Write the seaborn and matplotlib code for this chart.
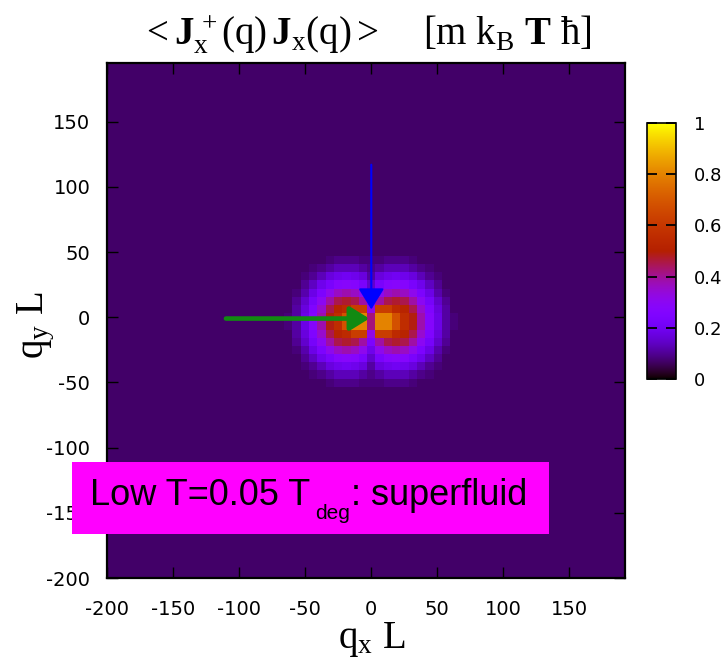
import numpy as np
import pandas as pd
import matplotlib
matplotlib.use("Agg")
import matplotlib.pyplot as plt
from matplotlib.patches import Rectangle
import seaborn as sns

# ---------------- data ----------------
Q_STEP = 2 * np.pi            # grid spacing in q*L
N_MIN, N_MAX = -32, 31        # grid indices along each axis
BACKGROUND = 0.07             # value far from the origin

PATCH_NX = list(range(-11, 12))      # columns of the central patch
PATCH_NY = list(range(7, -9, -1))    # rows of the central patch (top -> bottom)
PATCH_ROWS = [
    [0.07, 0.07, 0.07, 0.07, 0.07, 0.07, 0.08, 0.09, 0.09, 0.09, 0.08, 0.08, 0.08, 0.09, 0.09, 0.09, 0.08, 0.07, 0.07, 0.07, 0.07, 0.07, 0.07],
    [0.07, 0.07, 0.07, 0.07, 0.08, 0.09, 0.11, 0.13, 0.13, 0.13, 0.11, 0.09, 0.11, 0.13, 0.13, 0.13, 0.11, 0.09, 0.08, 0.07, 0.07, 0.07, 0.07],
    [0.07, 0.07, 0.07, 0.08, 0.10, 0.13, 0.17, 0.19, 0.20, 0.19, 0.17, 0.11, 0.17, 0.19, 0.20, 0.19, 0.17, 0.13, 0.10, 0.08, 0.07, 0.07, 0.07],
    [0.07, 0.07, 0.07, 0.10, 0.14, 0.19, 0.23, 0.27, 0.28, 0.27, 0.23, 0.15, 0.23, 0.27, 0.28, 0.27, 0.23, 0.19, 0.14, 0.10, 0.07, 0.07, 0.07],
    [0.07, 0.07, 0.08, 0.12, 0.18, 0.24, 0.31, 0.36, 0.38, 0.36, 0.31, 0.19, 0.31, 0.36, 0.38, 0.36, 0.31, 0.24, 0.18, 0.12, 0.08, 0.07, 0.07],
    [0.07, 0.07, 0.10, 0.15, 0.22, 0.30, 0.39, 0.45, 0.47, 0.45, 0.39, 0.24, 0.39, 0.45, 0.47, 0.45, 0.39, 0.30, 0.22, 0.15, 0.10, 0.07, 0.07],
    [0.07, 0.07, 0.11, 0.17, 0.25, 0.35, 0.45, 0.52, 0.55, 0.62, 0.62, 0.32, 0.62, 0.62, 0.55, 0.52, 0.45, 0.35, 0.25, 0.17, 0.11, 0.07, 0.07],
    [0.07, 0.08, 0.11, 0.18, 0.27, 0.38, 0.49, 0.56, 0.68, 0.80, 0.80, 0.42, 0.80, 0.80, 0.68, 0.56, 0.49, 0.38, 0.27, 0.18, 0.11, 0.08, 0.07],
    [0.07, 0.08, 0.11, 0.18, 0.27, 0.38, 0.49, 0.56, 0.68, 0.80, 0.80, 0.42, 0.80, 0.80, 0.68, 0.56, 0.49, 0.38, 0.27, 0.18, 0.11, 0.08, 0.07],
    [0.07, 0.07, 0.11, 0.17, 0.25, 0.35, 0.45, 0.52, 0.55, 0.62, 0.62, 0.32, 0.62, 0.62, 0.55, 0.52, 0.45, 0.35, 0.25, 0.17, 0.11, 0.07, 0.07],
    [0.07, 0.07, 0.10, 0.15, 0.22, 0.30, 0.39, 0.45, 0.47, 0.45, 0.39, 0.24, 0.39, 0.45, 0.47, 0.45, 0.39, 0.30, 0.22, 0.15, 0.10, 0.07, 0.07],
    [0.07, 0.07, 0.08, 0.12, 0.18, 0.24, 0.31, 0.36, 0.38, 0.36, 0.31, 0.19, 0.31, 0.36, 0.38, 0.36, 0.31, 0.24, 0.18, 0.12, 0.08, 0.07, 0.07],
    [0.07, 0.07, 0.07, 0.10, 0.14, 0.19, 0.23, 0.27, 0.28, 0.27, 0.23, 0.15, 0.23, 0.27, 0.28, 0.27, 0.23, 0.19, 0.14, 0.10, 0.07, 0.07, 0.07],
    [0.07, 0.07, 0.07, 0.08, 0.10, 0.13, 0.17, 0.19, 0.20, 0.19, 0.17, 0.11, 0.17, 0.19, 0.20, 0.19, 0.17, 0.13, 0.10, 0.08, 0.07, 0.07, 0.07],
    [0.07, 0.07, 0.07, 0.07, 0.08, 0.09, 0.11, 0.13, 0.13, 0.13, 0.11, 0.09, 0.11, 0.13, 0.13, 0.13, 0.11, 0.09, 0.08, 0.07, 0.07, 0.07, 0.07],
    [0.07, 0.07, 0.07, 0.07, 0.07, 0.07, 0.08, 0.09, 0.09, 0.09, 0.08, 0.08, 0.08, 0.09, 0.09, 0.09, 0.08, 0.07, 0.07, 0.07, 0.07, 0.07, 0.07],
]

X_TICKS = [-200, -150, -100, -50, 0, 50, 100, 150]
Y_TICKS = [-200, -150, -100, -50, 0, 50, 100, 150]
X_LIM = (-200, 192)
Y_LIM = (-200, 195)
CBAR_TICKS = [0, 0.2, 0.4, 0.6, 0.8, 1]
CBAR_LABELS = ["0", "0.2", "0.4", "0.6", "0.8", "1"]

TITLE = (r"$<\mathbf{J}_{\mathrm{x}}^{\,+}(\mathrm{q})\,\mathbf{J}_{\mathrm{x}}(\mathrm{q})>$"
         "    " r"[m k$_\mathrm{B}$ $\mathbf{T}$ ħ]")
XLABEL = r"q$_\mathrm{x}$ L"
YLABEL = r"q$_\mathrm{y}$ L"
BOX_PARTS = ["Low T=0.05 T", "deg", ": superfluid"]

# arrows (q*L coordinates): (start, end)
BLUE_ARROW = ((0, 117), (0, 6))
GREEN_ARROW = ((-110, -1), (-1.5, -1))

# ---------------- build grid ----------------
nx = np.arange(N_MIN, N_MAX + 1)
ny = np.arange(N_MAX, N_MIN - 1, -1)
grid = np.full((len(ny), len(nx)), BACKGROUND)
for r, row_n in enumerate(PATCH_NY):
    for c, col_n in enumerate(PATCH_NX):
        grid[N_MAX - row_n, col_n - N_MIN] = PATCH_ROWS[r][c]
df = pd.DataFrame(grid, index=np.round(ny * Q_STEP, 2), columns=np.round(nx * Q_STEP, 2))


def pos_x(q):
    return q / Q_STEP - N_MIN + 0.5


def pos_y(q):
    return N_MAX - q / Q_STEP + 0.5


# ---------------- style ----------------
sns.set_theme(style="white")
plt.rcParams["font.family"] = ["Liberation Sans", "DejaVu Sans"]
plt.rcParams["mathtext.fontset"] = "custom"
plt.rcParams["mathtext.rm"] = "Liberation Serif"
plt.rcParams["mathtext.it"] = "Liberation Serif:italic"
plt.rcParams["mathtext.bf"] = "Liberation Serif:bold"
plt.rcParams["mathtext.sf"] = "Liberation Sans"

W, H = 727, 661
fig = plt.figure(figsize=(W / 100, H / 100), dpi=100)
fig.patch.set_facecolor("white")
ax = fig.add_axes([107 / W, 1 - 578 / H, (625 - 107) / W, (578 - 63) / H])
cax = fig.add_axes([647 / W, 1 - 379 / H, (676 - 647) / W, (379 - 123) / H])

sns.heatmap(df, ax=ax, cbar_ax=cax, cmap="gnuplot", vmin=0, vmax=1,
            xticklabels=False, yticklabels=False)

ax.set_xlim(pos_x(X_LIM[0]), pos_x(X_LIM[1]))
ax.set_ylim(pos_y(Y_LIM[0]), pos_y(Y_LIM[1]))
ax.set_xticks([pos_x(v) for v in X_TICKS])
ax.set_xticklabels([str(v) for v in X_TICKS])
ax.set_yticks([pos_y(v) for v in Y_TICKS])
ax.set_yticklabels([str(v) for v in Y_TICKS], rotation=0)
ax.set_xlabel("")
ax.set_ylabel("")
ax.set_axisbelow(False)
for s in ax.spines.values():
    s.set_visible(True)
    s.set_color("black")
    s.set_linewidth(1.6)
ax.tick_params(which="major", direction="in", length=8, width=1.0, color="black",
               bottom=True, top=True, left=True, right=True, labelsize=14,
               labelcolor="black", labelfontfamily="DejaVu Sans")
ax.tick_params(axis="x", pad=16)
ax.tick_params(axis="y", pad=12)

cbar = ax.collections[0].colorbar
cbar.outline.set_visible(True)
cbar.outline.set_linewidth(1.2)
cbar.outline.set_edgecolor("black")
cbar.set_ticks(CBAR_TICKS)
cbar.set_ticklabels(CBAR_LABELS)
cax.set_axisbelow(False)
cax.tick_params(left=True, right=True, direction="in", length=7, width=1.3,
                color="black", labelsize=13, pad=13, labelcolor="black",
                labelfontfamily="DejaVu Sans")

# arrows
(bx0, by0), (bx1, by1) = BLUE_ARROW
ax.annotate("", xy=(pos_x(bx1), pos_y(by1)), xytext=(pos_x(bx0), pos_y(by0)),
            arrowprops=dict(arrowstyle="-|>,head_length=0.65,head_width=0.4",
                            mutation_scale=20, lw=1.5, color="#0000ff",
                            shrinkA=0, shrinkB=0), zorder=6)
(gx0, gy0), (gx1, gy1) = GREEN_ARROW
ax.annotate("", xy=(pos_x(gx1), pos_y(gy1)), xytext=(pos_x(gx0), pos_y(gy0)),
            arrowprops=dict(arrowstyle="-|>,head_length=0.58,head_width=0.36",
                            mutation_scale=20, lw=3.3, color="#128a12",
                            shrinkA=0, shrinkB=0), zorder=6)

# titles and labels
fig.text(366 / W, 1 - 44 / H, TITLE, ha="center", va="baseline",
         fontsize=28, family="Liberation Serif", color="black")
fig.text(372 / W, 1 - 648 / H, XLABEL, ha="center", va="baseline",
         fontsize=28, family="Liberation Serif", color="black")
fig.text(36 / W, 1 - 325 / H, YLABEL, ha="center", va="center", rotation=90,
         fontsize=28, family="Liberation Serif", color="black")

# magenta label box
fig.add_artist(Rectangle((72 / W, 1 - 534 / H), (549 - 72) / W, (534 - 462) / H,
                         transform=fig.transFigure, facecolor="#ff00ff",
                         edgecolor="none", zorder=8))
renderer = fig.canvas.get_renderer()
x_px = 90
t1 = fig.text(x_px / W, 1 - 505 / H, BOX_PARTS[0], ha="left", va="baseline",
              fontsize=26, family="Liberation Sans", color="black", zorder=9)
x_px = t1.get_window_extent(renderer).x1 + 5
t2 = fig.text(x_px / W, 1 - 519 / H, BOX_PARTS[1], ha="left", va="baseline",
              fontsize=15, family="Liberation Sans", color="black", zorder=9)
x_px = t2.get_window_extent(renderer).x1 + 1
fig.text(x_px / W, 1 - 505 / H, BOX_PARTS[2], ha="left", va="baseline",
         fontsize=26, family="Liberation Sans", color="black", zorder=9)

fig.savefig("out.png", dpi=100)
